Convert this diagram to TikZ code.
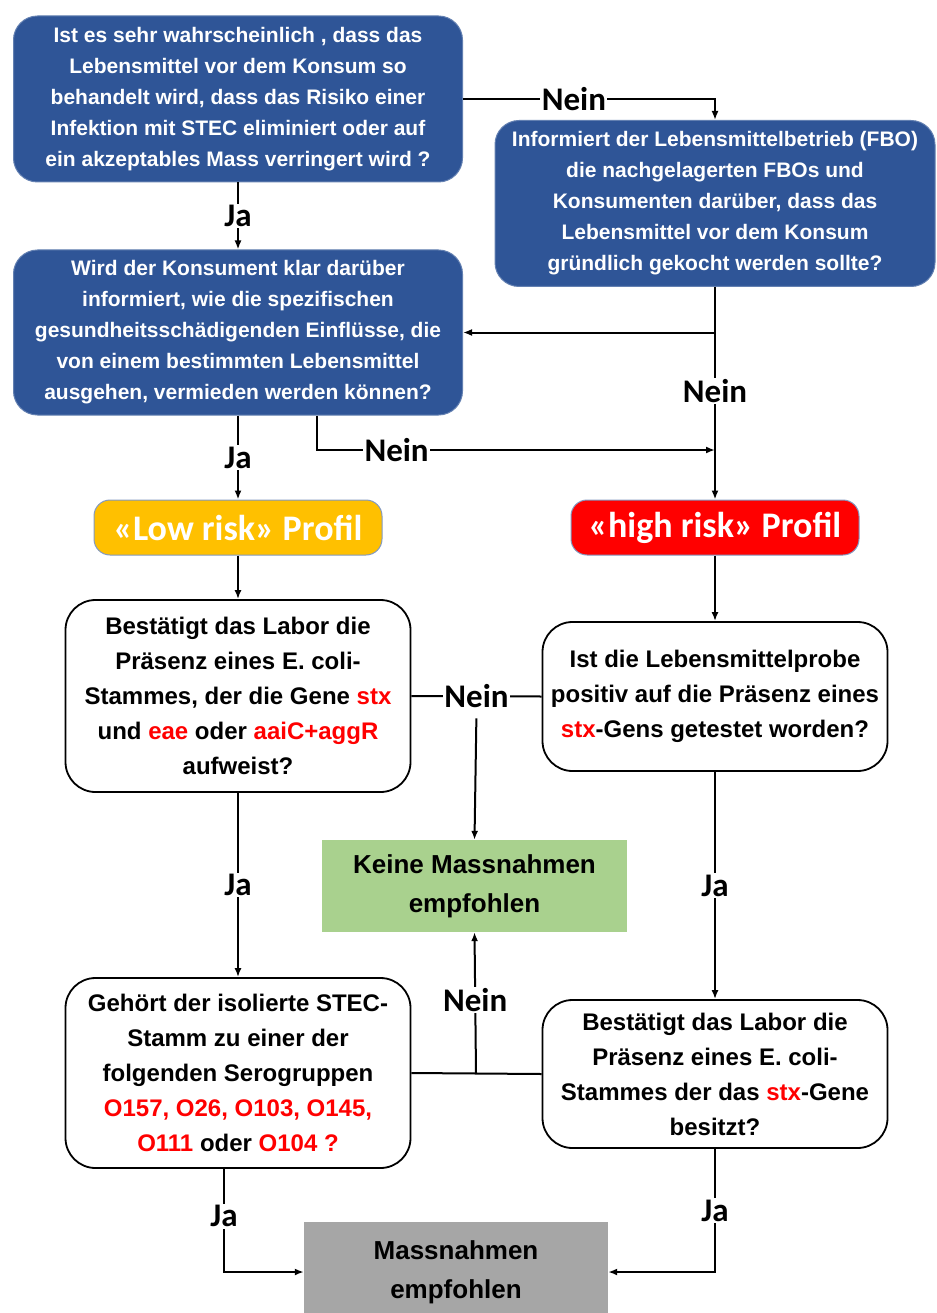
\documentclass[tikz,border=0pt]{standalone}
\usepackage{fontspec}
\setmainfont{Liberation Sans}
\newfontfamily\labelfont{Carlito}
\usetikzlibrary{arrows.meta}

\definecolor{qblue}{HTML}{2F5597}
\definecolor{lowrisk}{HTML}{FFC000}
\definecolor{highrisk}{HTML}{FF0000}
\definecolor{keinegreen}{HTML}{A9D18E}
\definecolor{massgrey}{HTML}{A6A6A6}
\definecolor{genred}{HTML}{FF0000}
\newcommand{\gen}[1]{\textcolor{genred}{#1}}

\begin{document}
\begin{tikzpicture}[x=1pt, y=-1pt,
    bluebox/.style={draw=qblue!75!white, line width=1pt, fill=qblue, rounded corners=24pt, text=white, align=center,
        font=\bfseries\fontsize{21}{31}\selectfont, minimum width=449pt, minimum height=166pt, inner sep=0pt},
    whitebox/.style={draw=black, line width=1.8pt, fill=white, rounded corners=30pt, align=center,
        font=\bfseries\fontsize{24}{35}\selectfont, minimum width=345pt, inner sep=0pt},
    profil/.style={draw=qblue!60, line width=1pt, rounded corners=16pt, text=white,
        font=\labelfont\bfseries\fontsize{36}{38}\selectfont, minimum width=288pt, minimum height=55pt, inner sep=0pt},
    result/.style={align=center, font=\bfseries\fontsize{26}{39}\selectfont, minimum width=305pt, inner sep=0pt},
    answer/.style={fill=white, font=\labelfont\bfseries\fontsize{33}{35}\selectfont, inner sep=1.5pt},
    flow/.style={-{Latex[length=9pt,width=7pt]}, line width=2pt},
    link/.style={line width=2pt}]

    \useasboundingbox (0,0) rectangle (936,1313);

    % Knoten
    \node[bluebox] (q1) at (238,99) {Ist es sehr wahrscheinlich , dass das\\Lebensmittel vor dem Konsum so\\behandelt wird, dass das Risiko einer\\Infektion mit STEC eliminiert oder auf\\ein akzeptables Mass verringert wird ?};
    \node[bluebox, minimum width=440pt] (q2) at (715,203.5) {Informiert der Lebensmittelbetrieb (FBO)\\die nachgelagerten FBOs und\\Konsumenten darüber, dass das\\Lebensmittel vor dem Konsum\\gründlich gekocht werden sollte?};
    \node[bluebox, minimum height=165pt] (q3) at (238,332.5) {Wird der Konsument klar darüber\\informiert, wie die spezifischen\\gesundheitsschädigenden Einflüsse, die\\von einem bestimmten Lebensmittel\\ausgehen, vermieden werden können?};

    \node[profil, fill=lowrisk] (low) at (238,527.5) {«Low risk» Profil};
    \node[profil, fill=highrisk] (high) at (715,527.5) {«high risk» Profil};

    \node[whitebox, minimum height=192pt] (q4) at (238,696) {Bestätigt das Labor die\\Präsenz eines E. coli-\\Stammes, der die Gene \gen{stx}\\und \gen{eae} oder \gen{aaiC+aggR}\\aufweist?};
    \node[whitebox, minimum height=149pt] (q5) at (715,696.5) {Ist die Lebensmittelprobe\\positiv auf die Präsenz eines\\\gen{stx}-Gens getestet worden?};

    \node[result, fill=keinegreen, minimum height=92pt] (keine) at (474.5,886) {Keine Massnahmen\\empfohlen};

    \node[whitebox, minimum height=190pt] (q6) at (238,1073) {Gehört der isolierte STEC-\\Stamm zu einer der\\folgenden Serogruppen\\\gen{O157, O26, O103, O145,}\\\gen{O111} oder \gen{O104 ?}};
    \node[whitebox, minimum height=148pt] (q7) at (715,1074) {Bestätigt das Labor die\\Präsenz eines E. coli-\\Stammes der das \gen{stx}-Gene\\besitzt?};

    \node[result, fill=massgrey, minimum width=304pt, minimum height=100pt] (mass) at (456,1272) {Massnahmen\\empfohlen};

    \coordinate (merge) at (715,450);
    \coordinate (split) at (476,1073);

    % Verbindungen
    \draw[flow] (q1.east) -| node[answer, pos=0.22] (nein1) {Nein} (q2.north);
    \draw[flow] (q1.south) -- node[answer] (ja1) {Ja} (q3.north);
    \draw[flow] (q2.south) |- (q3.east);
    \draw[flow] (q2.south) -- node[answer, pos=0.49] (nein2) {Nein} (high.north);
    \draw[flow] ([xshift=79pt]q3.south) |- node[answer, pos=0.6] (nein3) {Nein} (merge);
    \draw[flow] (q3.south) -- node[answer] (ja3) {Ja} (low.north);

    \draw[flow] (low.south) -- (q4.north);
    \draw[flow] (high.south) -- (q5.north);

    \draw[link] (q4.east) -- node[answer] (nein4) {Nein} (q5.west);
    \draw[flow, shorten <=8pt] (nein4.south) -- (keine.north);
    \draw[flow] (q4.south) -- node[answer] (ja4) {Ja} (q6.north);
    \draw[flow] (q5.south) -- node[answer] (ja5) {Ja} (q7.north);

    \draw[link] (q6.east) -- (q7.west);
    \draw[flow] (split) -- node[answer, pos=0.52] (nein6) {Nein} (keine.south);
    \draw[flow] ([xshift=-14pt]q6.south) |- node[answer, pos=0.23] (ja6) {Ja} (mass.west);
    \draw[flow] (q7.south) |- node[answer, pos=0.25] (ja7) {Ja} (mass.east);

\end{tikzpicture}
\end{document}
